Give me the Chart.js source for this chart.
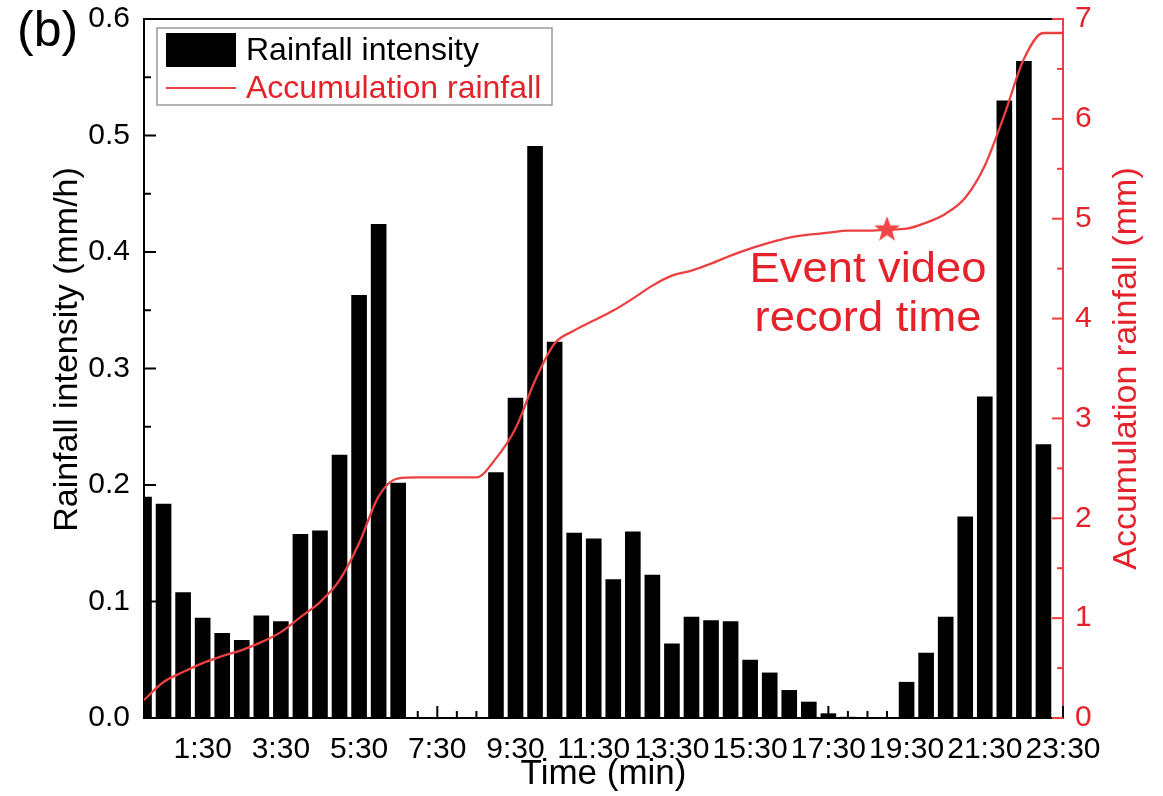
<!DOCTYPE html>
<html>
<head>
<meta charset="utf-8">
<script src="https://cdn.jsdelivr.net/npm/chart.js@4/dist/chart.umd.min.js"></script>
<style>
html,body{margin:0;padding:0;background:#fff;}
canvas{display:block;}
</style>
</head>
<body>
<canvas id="c" width="1163" height="796"></canvas>
<script>
// ---------- DATA ----------
const barTimes = ["0:00","0:30","1:00","1:30","2:00","2:30","3:00","3:30","4:00","4:30",
  "5:00","5:30","6:00","6:30","7:00","7:30","8:00","8:30","9:00","9:30",
  "10:00","10:30","11:00","11:30","12:00","12:30","13:00","13:30","14:00","14:30",
  "15:00","15:30","16:00","16:30","17:00","17:30","18:00","18:30","19:00","19:30",
  "20:00","20:30","21:00","21:30","22:00","22:30","23:00"];
const intensity = [0.190,0.184,0.108,0.086,0.073,0.067,0.088,0.083,0.158,0.161,
  0.226,0.363,0.424,0.202,0,0,0,0,0.211,0.275,
  0.491,0.323,0.159,0.154,0.119,0.160,0.123,0.064,0.087,0.084,
  0.083,0.050,0.039,0.024,0.014,0.004,0.001,0,0,0.031,
  0.056,0.087,0.173,0.276,0.530,0.564,0.235];
const accumTimes = ["0:00","0:30","1:00","1:30","2:00","2:30","3:00","3:30","4:00","4:30",
  "5:00","5:30","6:00","6:30","7:00","7:30","8:00","8:30","9:00","9:30",
  "10:00","10:30","11:00","11:30","12:00","12:30","13:00","13:30","14:00","14:30",
  "15:00","15:30","16:00","16:30","17:00","17:30","18:00","18:30","19:00","19:30",
  "20:00","20:30","21:00","21:30","22:00","22:30","23:00","23:30"];
const accumulation = [0.18,0.36,0.46,0.55,0.62,0.68,0.76,0.86,1.01,1.16,
  1.38,1.75,2.22,2.40,2.41,2.41,2.41,2.41,2.60,2.90,
  3.38,3.75,3.88,3.98,4.08,4.20,4.33,4.43,4.48,4.55,
  4.63,4.70,4.76,4.81,4.84,4.86,4.88,4.88,4.89,4.90,
  4.96,5.05,5.21,5.53,6.04,6.60,6.86,6.86];
const xTickLabels = ["1:30","3:30","5:30","7:30","9:30","11:30","13:30","15:30","17:30","19:30","21:30","23:30"];
const xRange = ["0:00","23:30"];
const leftRange = [0, 0.6];
const rightRange = [0, 7];
const eventTime = "19:00";
const eventValue = 4.89;
const eventText = ["Event video","record time"];
const panelLabel = "(b)";
const leftTitle = "Rainfall intensity (mm/h)";
const rightTitle = "Accumulation rainfall (mm)";
const bottomTitle = "Time (min)";

// ---------- helpers ----------
const toMin = s => { const [m, sec] = s.split(":").map(Number); return m + sec / 60; };
const xLabelMins = xTickLabels.map(toMin);
const FONT = "'Liberation Sans', Arial, sans-serif";
const RED_TEXT = '#e5222a';
const RED_LINE = '#ec4040';

// filled star image for the event marker
const starImg = document.createElement('canvas');
starImg.width = 30; starImg.height = 30;
(function(){
  const g = starImg.getContext('2d');
  g.fillStyle = '#f04646';
  g.beginPath();
  for (let i = 0; i < 10; i++) {
    const r = i % 2 === 0 ? 13.5 : 5.6;
    const a = -Math.PI / 2 + i * Math.PI / 5;
    const px = 15 + r * Math.cos(a), py = 15 + r * Math.sin(a);
    if (i === 0) g.moveTo(px, py); else g.lineTo(px, py);
  }
  g.closePath(); g.fill();
})();

// ---------- plugins ----------
const inwardTicks = {
  id: 'inwardTicks',
  beforeDatasetsDraw(chart) {
    const {ctx, chartArea: a, scales} = chart;
    ctx.save();
    ctx.lineWidth = 2;
    // left axis
    ctx.strokeStyle = '#000';
    const yt = scales.y.ticks.map(t => t.value);
    yt.forEach((v, i) => {
      const p = scales.y.getPixelForValue(v);
      ctx.beginPath(); ctx.moveTo(a.left, p); ctx.lineTo(a.left + 12, p); ctx.stroke();
      if (i < yt.length - 1) {
        const pm = scales.y.getPixelForValue((v + yt[i + 1]) / 2);
        ctx.beginPath(); ctx.moveTo(a.left, pm); ctx.lineTo(a.left + 7, pm); ctx.stroke();
      }
    });
    // bottom axis
    scales.x.ticks.forEach(t => {
      const p = scales.x.getPixelForValue(t.value);
      const major = xLabelMins.some(m => Math.abs(m - t.value) < 1e-6);
      const len = major ? 12 : 7;
      ctx.beginPath(); ctx.moveTo(p, a.bottom); ctx.lineTo(p, a.bottom - len); ctx.stroke();
    });
    // top frame line
    ctx.beginPath(); ctx.moveTo(a.left - 1, a.top); ctx.lineTo(a.right - 11, a.top); ctx.stroke();
    // right axis
    ctx.strokeStyle = RED_LINE;
    const rt = scales.y1.ticks.map(t => t.value);
    rt.forEach((v, i) => {
      const p = scales.y1.getPixelForValue(v);
      ctx.beginPath(); ctx.moveTo(a.right, p); ctx.lineTo(a.right - 11, p); ctx.stroke();
      if (i < rt.length - 1) {
        const pm = scales.y1.getPixelForValue((v + rt[i + 1]) / 2);
        ctx.beginPath(); ctx.moveTo(a.right, pm); ctx.lineTo(a.right - 6, pm); ctx.stroke();
      }
    });
    ctx.restore();
  }
};

const decorations = {
  id: 'decorations',
  afterDraw(chart) {
    const {ctx, chartArea: a, scales} = chart;
    ctx.save();
    // panel label
    ctx.fillStyle = '#000';
    ctx.font = `50px ${FONT}`;
    ctx.textAlign = 'left'; ctx.textBaseline = 'alphabetic';
    ctx.fillText(panelLabel, 17, 46);

    // left axis title
    ctx.save();
    ctx.translate(a.left - 76, (a.top + a.bottom) / 2 - 19);
    ctx.rotate(-Math.PI / 2);
    ctx.fillStyle = '#000';
    ctx.font = `34px ${FONT}`;
    ctx.textAlign = 'center'; ctx.textBaseline = 'middle';
    ctx.fillText(leftTitle, 0, 0);
    ctx.restore();

    // right axis title (reads bottom-to-top)
    ctx.save();
    ctx.translate(a.right + 64, (a.top + a.bottom) / 2);
    ctx.rotate(-Math.PI / 2);
    ctx.fillStyle = RED_TEXT;
    ctx.font = `34px ${FONT}`;
    ctx.textAlign = 'center'; ctx.textBaseline = 'middle';
    ctx.fillText(rightTitle, 0, 0);
    ctx.restore();

    // legend
    const ds = chart.data.datasets;
    const lx = a.left + 13, ly = a.top + 9, lw = 395, lh = 77;
    ctx.strokeStyle = '#9a9a9a'; ctx.lineWidth = 1.5;
    ctx.strokeRect(lx, ly, lw, lh);
    ctx.fillStyle = ds[0].backgroundColor;
    ctx.fillRect(lx + 9, ly + 5, 70, 34);
    ctx.strokeStyle = ds[1].borderColor; ctx.lineWidth = 2;
    ctx.beginPath(); ctx.moveTo(lx + 9, ly + 60); ctx.lineTo(lx + 79, ly + 60); ctx.stroke();
    ctx.font = `32px ${FONT}`;
    ctx.textAlign = 'left'; ctx.textBaseline = 'middle';
    ctx.fillStyle = '#000';
    ctx.fillText(ds[0].label, lx + 89, ly + 23);
    ctx.fillStyle = RED_TEXT;
    ctx.fillText(ds[1].label, lx + 89, ly + 61);

    // event annotation
    const sx = scales.x.getPixelForValue(toMin(eventTime));
    const sy = scales.y1.getPixelForValue(eventValue);
    ctx.fillStyle = RED_TEXT;
    ctx.font = `42px ${FONT}`;
    ctx.textAlign = 'center'; ctx.textBaseline = 'alphabetic';
    ctx.save();
    ctx.translate(sx - 19, 0);
    ctx.scale(1.08, 1);
    ctx.fillText(eventText[0], 0, sy + 52);
    ctx.fillText(eventText[1], 0, sy + 101);
    ctx.restore();
    ctx.restore();
  }
};

// ---------- chart ----------
new Chart(document.getElementById('c'), {
  data: {
    datasets: [
      {
        type: 'bar',
        label: 'Rainfall intensity',
        data: barTimes.map((t, i) => ({x: toMin(t), y: intensity[i]})),
        backgroundColor: '#000',
        borderWidth: 0,
        barPercentage: 0.8,
        categoryPercentage: 1.0,
        xAxisID: 'x', yAxisID: 'y',
        order: 2
      },
      {
        type: 'line',
        label: 'Accumulation rainfall',
        data: accumTimes.map((t, i) => ({x: toMin(t), y: accumulation[i]})),
        borderColor: RED_LINE,
        borderWidth: 2.3,
        pointRadius: 0,
        cubicInterpolationMode: 'monotone',
        fill: false,
        xAxisID: 'x', yAxisID: 'y1',
        order: 1
      },
      {
        type: 'line',
        label: 'Event video record time',
        data: [{x: toMin(eventTime), y: eventValue}],
        showLine: false,
        pointStyle: starImg,
        pointRadius: 14,
        xAxisID: 'x', yAxisID: 'y1',
        order: 0
      }
    ]
  },
  options: {
    responsive: false,
    animation: false,
    devicePixelRatio: 1,
    layout: {padding: {top: 19, left: 0, right: 0, bottom: 0}},
    plugins: {legend: {display: false}, tooltip: {enabled: false}},
    scales: {
      x: {
        type: 'linear',
        position: 'bottom',
        offset: false,
        min: toMin(xRange[0]),
        max: toMin(xRange[1]),
        grid: {display: false, drawTicks: false, offset: false},
        border: {display: true, color: '#000', width: 2},
        ticks: {
          stepSize: 0.5,
          autoSkip: false,
          maxRotation: 0, minRotation: 0,
          color: '#000',
          padding: 14,
          font: {family: FONT, size: 30},
          callback: (v) => {
            const k = xLabelMins.findIndex(m => Math.abs(m - v) < 1e-6);
            return k >= 0 ? xTickLabels[k] : '';
          }
        },
        title: {display: true, text: bottomTitle, color: '#000',
          font: {family: FONT, size: 35}, padding: {top: 0, bottom: 1}},
        afterFit: s => { s.height = 78; s.paddingLeft = 0; s.paddingRight = 0; }
      },
      y: {
        type: 'linear',
        position: 'left',
        min: leftRange[0], max: leftRange[1],
        grid: {display: false, drawTicks: false},
        border: {display: true, color: '#000', width: 2},
        ticks: {stepSize: 0.1, color: '#000', padding: 14,
          font: {family: FONT, size: 30},
          callback: v => Number(v).toFixed(1)},
        title: {display: false},
        afterFit: s => { s.width = 144; s.paddingTop = 0; s.paddingBottom = 0; }
      },
      y1: {
        type: 'linear',
        position: 'right',
        min: rightRange[0], max: rightRange[1],
        grid: {display: false, drawTicks: false},
        border: {display: true, color: RED_LINE, width: 2},
        ticks: {stepSize: 1, color: RED_TEXT, padding: 12,
          font: {family: FONT, size: 30}},
        title: {display: false},
        afterFit: s => { s.width = 100; s.paddingTop = 0; s.paddingBottom = 0; }
      }
    }
  },
  plugins: [inwardTicks, decorations]
});
</script>
</body>
</html>
